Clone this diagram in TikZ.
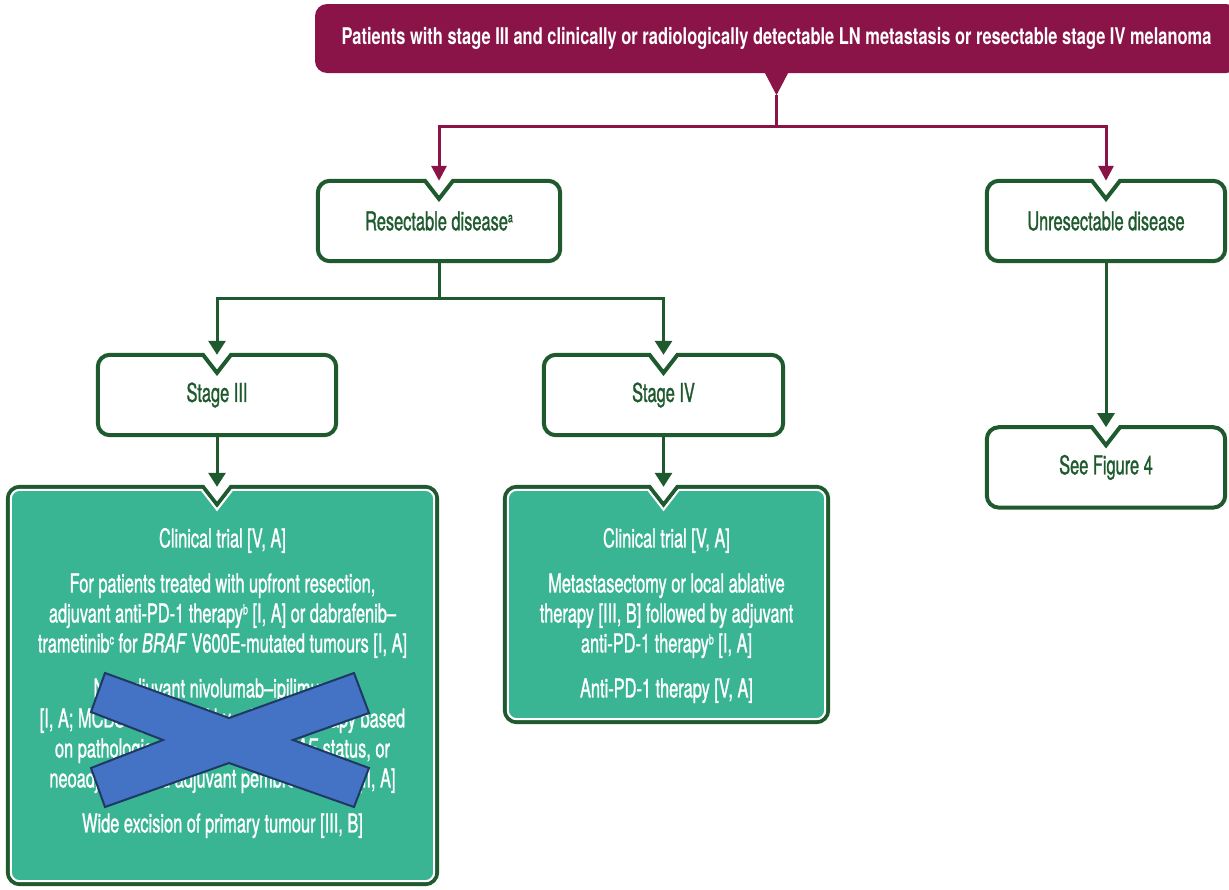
\documentclass[tikz,border=0pt]{standalone}
\usepackage{fontspec}
\setmainfont[FakeStretch=0.63,FakeBold=1]{TeX Gyre Heros}
\newfontfamily\banfont[FakeStretch=0.715]{TeX Gyre Heros}
\usetikzlibrary{positioning,arrows.meta,calc,backgrounds}
\definecolor{figmag}{HTML}{8A1448}
\definecolor{figgreen}{HTML}{1E5A2D}
\definecolor{figteal}{HTML}{3AB594}
\definecolor{figblue}{HTML}{4472C4}
\definecolor{fignavy}{HTML}{1F3864}
\newcommand\boxfont{\fontsize{26}{30}\selectfont}
\newcommand\banfontsize{\banfont\bfseries\fontsize{23}{27}\selectfont}
\newcommand\fnm[1]{\raisebox{8pt}{\fontsize{14}{14}\selectfont #1}}
\def\boxr{12}
\def\notchw{14}
\def\notchh{18}
\newcommand\notchframe[4]{%
  \path[#4] let \p1=(#1.north west), \p2=(#1.south east), \p3=(#2|-#1.north),
    \n1={\boxr-#3} in
    (\x3+\notchw+0.49*#3, \y1-#3) -- (\x2-\boxr, \y1-#3)
    arc[start angle=90, end angle=0, radius=\n1 pt]
    -- (\x2-#3, \y2+\boxr)
    arc[start angle=0, end angle=-90, radius=\n1 pt]
    -- (\x1+\boxr, \y2+#3)
    arc[start angle=-90, end angle=-180, radius=\n1 pt]
    -- (\x1+#3, \y1-\boxr)
    arc[start angle=180, end angle=90, radius=\n1 pt]
    -- (\x3-\notchw-0.49*#3, \y1-#3) -- (\x3, \y1-\notchh-1.63*#3) -- cycle;}
\tikzset{
  banner/.style={fill=figmag,rounded corners=12pt,minimum width=923pt,minimum height=69pt,
                 inner sep=0pt,text=white,font=\banfontsize},
  wbox/.style={minimum width=238pt,minimum height=80pt,inner sep=0pt,text=figgreen,font=\boxfont},
  gbox/.style={inner sep=0pt},
  gtext/.style={inner sep=0pt,align=center,text=white,font=\boxfont},
  wframe/.style={draw=figgreen,line width=4pt,fill=white},
  gframe/.style={draw=figgreen,line width=4pt},
  gfill/.style={draw=white,line width=2pt,fill=figteal},
  mln/.style={figmag,line width=3pt},
  mar/.style={mln,-{Triangle[length=15pt,width=15pt]}},
  gln/.style={figgreen,line width=3pt},
  gar/.style={gln,-{Triangle[length=14pt,width=17pt]}},
  xcross/.style={fill=figblue,draw=fignavy,line width=2pt,line join=miter},
}

\begin{document}
\begin{tikzpicture}[x=1pt,y=1pt]
\useasboundingbox (0,0) rectangle (1229,-889);
\clip (0,0) rectangle (1229,-889);

\node[banner] (ban) at (776.5,-38.5)
  {Patients with stage III and clinically or radiologically detectable LN metastasis or resectable stage IV melanoma};
\coordinate (bantip) at ($(ban.south)+(0,-22)$);
\fill[figmag] ($(ban.south)+(-12,1)$) -- ($(ban.south)+(12,1)$) -- (bantip) -- cycle;
\coordinate (split) at ($(bantip)+(0,-31)$);

\node[wbox,minimum width=242pt] (res) at (439,-221) {\raisebox{-2pt}{Resectable disease\fnm{a}}};
\node[wbox] (unres) at (1106,-221) {\raisebox{-2pt}{Unresectable disease}};
\node[wbox] (s3) at (217,-395) {\raisebox{-2pt}{Stage III}};
\node[wbox,minimum width=239pt] (s4) at (663.5,-395) {\raisebox{-2pt}{Stage IV}};
\node[wbox,below=166pt of unres] (fig4) {\raisebox{-2pt}{See Figure 4}};
\node[gbox,minimum width=429pt,minimum height=397pt] (g3) at (222.5,-685.5) {};
\node[gbox,minimum width=323pt,minimum height=235pt] (g4) at (666.5,-604.5) {};

\node[gtext,below=41pt of g3.north] (g3text) {Clinical trial [V, A]\\[15pt]
  For patients treated with upfront resection,\\
  adjuvant anti-PD-1 therapy\fnm{b} [I, A] or dabrafenib--\\
  trametinib\fnm{c} for \textit{BRAF} V600E-mutated tumours [I, A]\\[15pt]
  Neoadjuvant nivolumab--ipilimumab\\{}%
  [I, A; MCBS A] followed by adjuvant therapy based\\
  on pathological response and \textit{BRAF} status, or\\
  neoadjuvant and adjuvant pembrolizumab [II, A]\\[15pt]
  Wide excision of primary tumour [III, B]};
\node[gtext,below=41pt of g4.north] (g4text) {Clinical trial [V, A]\\[15pt]
  Metastasectomy or local ablative\\
  therapy [III, B] followed by adjuvant\\
  anti-PD-1 therapy\fnm{b} [I, A]\\[15pt]
  Anti-PD-1 therapy [V, A]};

\begin{scope}[on background layer]
\notchframe{res}{res}{0}{wframe}
\notchframe{unres}{unres}{0}{wframe}
\notchframe{s3}{s3}{0}{wframe}
\notchframe{s4}{s4}{0}{wframe}
\notchframe{fig4}{fig4}{0}{wframe}
\notchframe{g3}{s3}{0}{gframe}
\notchframe{g3}{s3}{3}{gfill}
\notchframe{g4}{s4}{0}{gframe}
\notchframe{g4}{s4}{3}{gfill}
\end{scope}

\draw[mln] (bantip) -- (split);
\draw[mar] (split) -| (res.north);
\draw[mar] (split) -| (unres.north);
\coordinate (split2) at ($(res.south)+(0,-37)$);
\draw[gln] (res.south) -- (split2);
\draw[gar] (split2) -| (s3.north);
\draw[gar] (split2) -| (s4.north);
\draw[gar] (s3.south) -- (s3.south |- g3.north);
\draw[gar] (s4.south) -- (s4.south |- g4.north);
\draw[gar] (unres.south) -- (fig4.north);

\path[xcross] (105,-673) -- (229,-718) -- (354,-673) -- (369,-713) -- (293,-740) -- (369,-768)
  -- (354,-807) -- (229,-763) -- (105,-807) -- (91,-768) -- (163,-740) -- (91,-712) -- cycle;

\end{tikzpicture}
\end{document}
